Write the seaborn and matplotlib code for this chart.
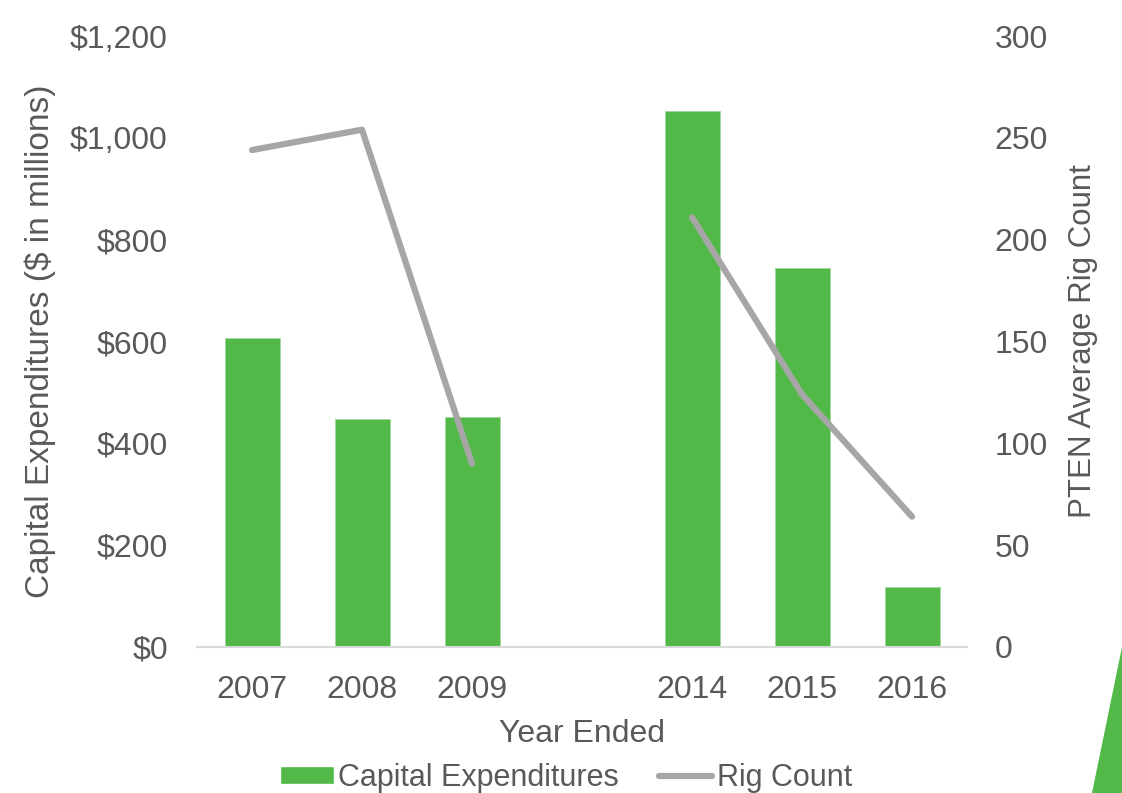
import matplotlib
matplotlib.use("Agg")
import matplotlib.pyplot as plt
import seaborn as sns
import pandas as pd
import numpy as np
from matplotlib.patches import Patch, Polygon
from matplotlib.lines import Line2D

years = ["2007", "2008", "2009", "", "2014", "2015", "2016"]
capex = [607, 448, 452, np.nan, 1053, 744, 118]
rigs = [244, 254, 90, np.nan, 211, 124, 64]
segment = [0, 0, 0, 0, 1, 1, 1]
left_ticks = [0, 200, 400, 600, 800, 1000, 1200]
right_ticks = [0, 50, 100, 150, 200, 250, 300]

GREEN = "#52b848"
GRAY = "#a6a6a6"
TXT = "#595959"

sns.set_theme(style="white")
plt.rcParams["font.family"] = ["Liberation Sans", "DejaVu Sans"]

fig = plt.figure(figsize=(11.22, 7.93), dpi=100)
ax = fig.add_axes([197/1122, 1-647/793, 770/1122, 611/793])

df = pd.DataFrame({"year": years, "capex": capex, "rigs": rigs, "seg": segment})
sns.barplot(data=df, x="year", y="capex", order=years, color=GREEN, width=0.5,
            saturation=1, ax=ax, edgecolor="#9fd89a", linewidth=0.6)
ax.set_xlim(-0.5, len(years) - 0.5)
ax.set_ylim(0, 1200)
ax.set_yticks(left_ticks)
ax.set_yticklabels([f"${v:,}" for v in left_ticks])
ax.tick_params(axis="both", length=0, labelsize=23, colors=TXT)
ax.tick_params(axis="x", pad=20)
ax.tick_params(axis="y", pad=21)
for s in ["top", "right", "left"]:
    ax.spines[s].set_visible(False)
ax.spines["bottom"].set_color("#d9d9d9")
ax.spines["bottom"].set_linewidth(1.5)
ax.set_xlabel("Year Ended", fontsize=23, color=TXT, labelpad=10)
ax.set_ylabel("Capital Expenditures ($ in millions)", fontsize=24, color=TXT, labelpad=10)

ax2 = ax.twinx()
ldf = df.dropna().copy()
ldf["pos"] = [years.index(y) for y in ldf["year"]]
sns.lineplot(data=ldf, x="pos", y="rigs", units="seg", estimator=None,
             color=GRAY, linewidth=4.5, ax=ax2, solid_capstyle="round", legend=False)
ax2.set_ylim(0, 300)
ax2.set_yticks(right_ticks)
ax2.set_yticklabels([str(v) for v in right_ticks])
ax2.tick_params(axis="y", length=0, labelsize=23, colors=TXT, pad=20)
for s in ["top", "right", "left", "bottom"]:
    ax2.spines[s].set_visible(False)
ax2.set_xlim(-0.5, len(years) - 0.5)
ax2.set_xlabel("")
ax2.set_ylabel("PTEN Average Rig Count", fontsize=22.5, color=TXT, labelpad=14,
               family=["Liberation Sans Narrow", "Liberation Sans", "DejaVu Sans"])

handles = [Patch(facecolor=GREEN, label="Capital Expenditures"),
           Line2D([0], [0], color=GRAY, linewidth=4.5, label="Rig Count")]
fig.legend(handles=handles, loc="center", bbox_to_anchor=(566/1122, 1-778/793),
           ncol=2, frameon=False, fontsize=22, labelcolor=TXT,
           handlelength=1.75, handletextpad=0.15, columnspacing=1.3,
           handleheight=0.55)

tri = Polygon([(1122/1122, 1-647/793), (1122/1122, 0), (1092/1122, 0)],
              closed=True, transform=fig.transFigure, facecolor=GREEN, edgecolor="none")
fig.patches.append(tri)

fig.savefig("out.png", dpi=100)
